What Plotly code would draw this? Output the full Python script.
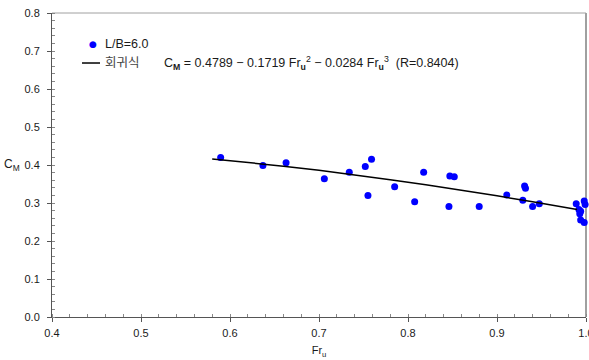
import plotly.graph_objects as go

# Measured data (L/B = 6.0)
fr_u = [0.5895, 0.637, 0.663, 0.706, 0.734, 0.752, 0.759, 0.755, 0.785,
        0.8075, 0.8176, 0.847, 0.852, 0.846, 0.880, 0.911, 0.931, 0.932,
        0.929, 0.940, 0.9475, 0.989, 0.992, 0.994, 0.993, 0.998, 0.999,
        0.994, 0.998]
c_m = [0.420, 0.399, 0.406, 0.364, 0.381, 0.396, 0.415, 0.320, 0.343,
       0.303, 0.381, 0.371, 0.369, 0.291, 0.291, 0.321, 0.345, 0.339,
       0.307, 0.291, 0.298, 0.298, 0.283, 0.278, 0.272, 0.305, 0.296,
       0.255, 0.249]

# Regression curve points
fit_x = [0.58, 0.62, 0.66, 0.70, 0.74, 0.78, 0.82, 0.86, 0.90, 0.94, 0.99]
fit_y = [0.416, 0.407, 0.397, 0.386, 0.374, 0.361, 0.348, 0.334, 0.319, 0.303, 0.283]

x_ticks = [0.4, 0.5, 0.6, 0.7, 0.8, 0.9, 1.0]
x_tick_labels = ["0.4", "0.5", "0.6", "0.7", "0.8", "0.9", "1.0"]
y_ticks = [0.0, 0.1, 0.2, 0.3, 0.4, 0.5, 0.6, 0.7, 0.8]
y_tick_labels = ["0.0", "0.1", "0.2", "0.3", "0.4", "0.5", "0.6", "0.7", "0.8"]

series_name = "L/B=6.0"
fit_name = "회귀식"
equation = ("C<sub><b>M</b></sub> = 0.4789 \u2212 0.1719 Fr<sub><b>u</b></sub><sup>2</sup>"
            " \u2212 0.0284 Fr<sub><b>u</b></sub><sup>3</sup>  (R=0.8404)")

FONT = "Liberation Sans, Arial, Noto Sans CJK KR, sans-serif"
TXT = "#1a1a1a"

fig = go.Figure()
fig.add_trace(go.Scatter(
    x=fr_u, y=c_m, mode="markers", name=series_name,
    marker=dict(color="#0000ff", size=7), cliponaxis=False,
))
fig.add_trace(go.Scatter(
    x=fit_x, y=fit_y, mode="lines", name=fit_name,
    line=dict(color="#000000", width=1.5), cliponaxis=False,
))

axis_common = dict(
    showgrid=False, zeroline=False, showline=True, linecolor="#555555",
    linewidth=1, ticks="outside", ticklen=4, tickcolor="#555555",
    tickfont=dict(family=FONT, size=11, color=TXT),
    automargin=False, ticklabeloverflow="allow",
)

fig.update_layout(
    width=589, height=360,
    margin=dict(l=52, r=3, t=13, b=43),
    paper_bgcolor="white", plot_bgcolor="white",
    font=dict(family=FONT, size=11, color=TXT),
    showlegend=False,
    xaxis=dict(
        range=[0.4, 1.0], tickvals=x_ticks, ticktext=x_tick_labels,
        minor=dict(dtick=0.02, ticks="inside", ticklen=3, tickcolor="#888888"),
        title=dict(text="Fr<sub>u</sub>", font=dict(family=FONT, size=11), standoff=8),
        ticklabelstandoff=2,
        **axis_common,
    ),
    yaxis=dict(
        range=[0.0, 0.8], tickvals=y_ticks, ticktext=y_tick_labels,
        minor=dict(dtick=0.02, ticks="inside", ticklen=3, tickcolor="#888888"),
        ticklabelstandoff=5,
        **axis_common,
    ),
    annotations=[
        # custom legend
        dict(text="\u25cf", xref="paper", yref="paper", x=0.0768, y=0.898,
             xanchor="center", yanchor="middle", showarrow=False,
             font=dict(family="DejaVu Sans", size=9, color="#0000ff")),
        dict(text=series_name, xref="paper", yref="paper", x=0.0955, y=0.898,
             xanchor="left", yanchor="middle", showarrow=False,
             font=dict(family=FONT, size=12.5, color=TXT)),
        dict(text=fit_name, xref="paper", yref="paper", x=0.0955, y=0.8355,
             xanchor="left", yanchor="middle", showarrow=False,
             font=dict(family=FONT, size=12.5, color="#444444")),
        dict(text=equation, xref="paper", yref="paper", x=0.206, y=0.8355,
             xanchor="left", yanchor="middle", showarrow=False,
             font=dict(family=FONT, size=12.5, color=TXT)),
        dict(text="C<sub>M</sub>", xref="paper", yref="paper", x=-0.075, y=0.50,
             xanchor="center", yanchor="middle", showarrow=False,
             font=dict(family=FONT, size=12, color=TXT)),
    ],
    shapes=[
        dict(type="line", xref="paper", yref="paper", x0=0.0562, x1=0.0899,
             y0=0.8355, y1=0.8355, line=dict(color="#000000", width=1.5)),
        dict(type="line", xref="paper", yref="paper", x0=0, x1=1, y0=1, y1=1,
             line=dict(color="#a0a0a0", width=1), layer="below"),
        dict(type="line", xref="paper", yref="paper", x0=1, x1=1, y0=0, y1=1,
             line=dict(color="#a0a0a0", width=2), layer="below"),
    ],
)

fig.write_html("out.html", config={"displayModeBar": False},
               post_script="document.body.style.margin='0';document.body.style.overflow='hidden';")
